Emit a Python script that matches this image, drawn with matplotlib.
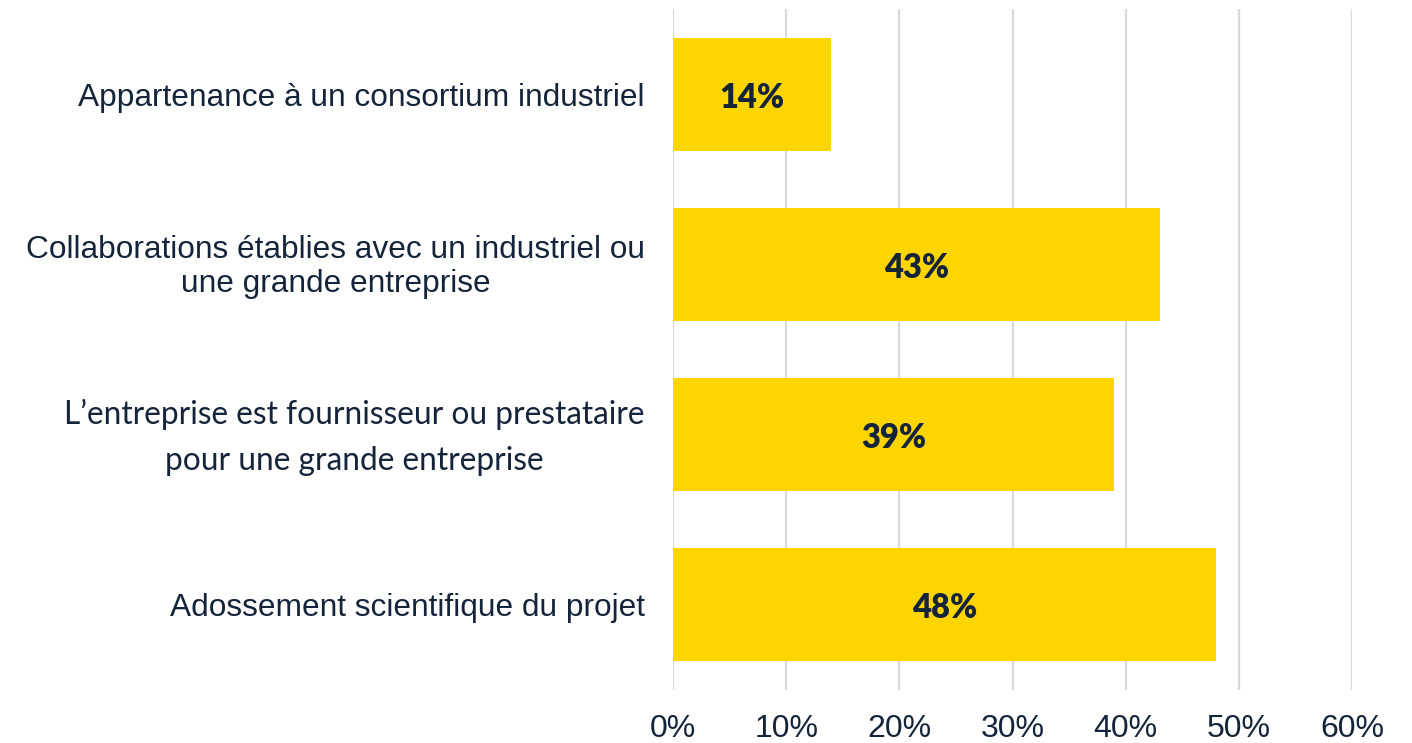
import matplotlib
matplotlib.use("Agg")
import matplotlib.pyplot as plt
from matplotlib.ticker import FuncFormatter
from matplotlib.transforms import blended_transform_factory, ScaledTranslation

categories = [
    "Appartenance à un consortium industriel",
    "Collaborations établies avec un industriel ou\nune grande entreprise",
    "L’entreprise est fournisseur ou prestataire\npour une grande entreprise",
    "Adossement scientifique du projet",
]
values = [14, 43, 39, 48]
xticks = [0, 10, 20, 30, 40, 50, 60]

bar_color = "#FFD500"
text_color = "#14243A"
grid_color = "#D9D9D9"

fig = plt.figure(figsize=(14.12, 7.43), dpi=100)
ax = fig.add_axes([673/1412, 1-690/743, (1352-673)/1412, (690-9)/743])

ypos = list(range(len(categories)))
ax.barh(ypos, values, height=0.665, color=bar_color, zorder=2)
ax.set_ylim(len(categories)-0.5, -0.5)
ax.set_xlim(0, 60)
ax.set_xticks(xticks)
ax.xaxis.set_major_formatter(FuncFormatter(lambda v, p: f"{int(v)}%"))
ax.grid(axis="x", color=grid_color, linewidth=1.6, zorder=0)
ax.set_axisbelow(True)
for s in ax.spines.values():
    s.set_visible(False)
ax.tick_params(axis="x", length=0, pad=17, labelsize=23, labelcolor=text_color)
for lab in ax.get_xticklabels():
    lab.set_fontfamily(["Liberation Sans", "DejaVu Sans"])
ax.set_yticks(ypos)
ax.set_yticklabels([])
ax.tick_params(axis="y", length=0)

blend = blended_transform_factory(ax.transAxes, ax.transData)
# per-label style: (family, linespacing, vertical offset in px)
styles = [
    (["Liberation Sans", "DejaVu Sans"], 1.2, 0),
    (["Liberation Sans", "DejaVu Sans"], 1.2, 3),
    (["Lato", "DejaVu Sans"], 1.65, 8),
    (["Liberation Sans", "DejaVu Sans"], 1.2, 0),
]
for y, cat, (fam, ls, dy) in zip(ypos, categories, styles):
    tr = blend + ScaledTranslation(-28/100, dy/100, fig.dpi_scale_trans)
    ax.text(0, y, cat, transform=tr, ha="right", va="center_baseline",
            multialignment="center", fontsize=22.8, color=text_color,
            family=fam, linespacing=ls)

for y, v in zip(ypos, values):
    ax.text(v/2, y + 0.02, f"{v}%", ha="center", va="center", fontsize=23.5,
            fontweight="heavy", color=text_color, family=["Lato", "DejaVu Sans"], zorder=3)

fig.savefig("out.png", dpi=100)
